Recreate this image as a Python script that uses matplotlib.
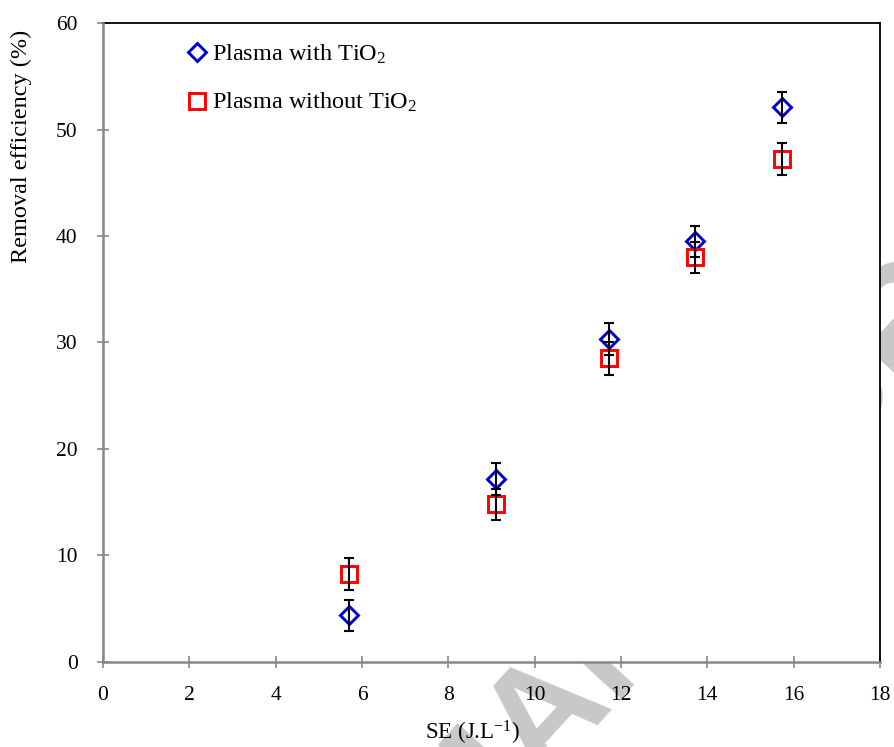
import matplotlib
matplotlib.use("Agg")
import matplotlib.pyplot as plt

plt.rcParams['font.family'] = ['Liberation Serif', 'DejaVu Serif']
plt.rcParams['mathtext.fontset'] = 'custom'
plt.rcParams['mathtext.rm'] = 'Liberation Serif'
plt.rcParams['mathtext.it'] = 'Liberation Serif:italic'
plt.rcParams['mathtext.default'] = 'rm'

# data
se = [5.7, 9.1, 11.72, 13.72, 15.72]
with_tio2 = [4.4, 17.2, 30.3, 39.5, 52.1]
with_tio2_err = [1.45, 1.5, 1.5, 1.45, 1.45]
without_tio2 = [8.3, 14.8, 28.5, 38.0, 47.2]
without_tio2_err = [1.5, 1.45, 1.55, 1.45, 1.5]

xticks = [0, 2, 4, 6, 8, 10, 12, 14, 16, 18]
yticks = [0, 10, 20, 30, 40, 50, 60]

fig = plt.figure(figsize=(8.95, 7.47), dpi=100)
ax = fig.add_axes([0.1151, 0.1138, 0.8681, 0.8554])
ax.set_facecolor('white')

# watermark behind the axes
fig.text(0.508, -0.165, "MANUSCRIPT", fontsize=108, fontweight='bold',
         family='Liberation Sans', color='#c8c8c8', rotation=47.5,
         rotation_mode='anchor', ha='left', va='baseline', zorder=-5)

ax.plot(se, with_tio2, linestyle='none', marker='D', markersize=9.5,
        markerfacecolor='none', markeredgecolor='#0000cc', markeredgewidth=2.1,
        label='Plasma with TiO$_2$', zorder=3)
ax.plot(se, without_tio2, linestyle='none', marker='s', markersize=12.0,
        markerfacecolor='none', markeredgecolor='#ff0000', markeredgewidth=2.1,
        label='Plasma without TiO$_2$', zorder=3)
ax.errorbar(se, with_tio2, yerr=with_tio2_err, fmt='none', ecolor='black',
            elinewidth=1.5, capsize=3.8, capthick=1.5, zorder=4)
ax.errorbar(se, without_tio2, yerr=without_tio2_err, fmt='none', ecolor='black',
            elinewidth=1.5, capsize=3.8, capthick=1.5, zorder=4)

ax.set_xlim(0, 18)
ax.set_ylim(0, 60)
ax.set_xticks(xticks)
ax.set_yticks(yticks)
ax.tick_params(direction='inout', length=8.5, width=1.2, color='#888888',
               labelsize=15.5, labelcolor='black')
ax.tick_params(axis='x', pad=13)
ax.tick_params(axis='y', pad=14)

for side in ['left', 'bottom']:
    ax.spines[side].set_color('#888888')
    ax.spines[side].set_linewidth(1.8)
for side in ['top', 'right']:
    ax.spines[side].set_color('black')
    ax.spines[side].set_linewidth(1.3)
ax.spines['left'].set_zorder(5)
ax.spines['bottom'].set_zorder(5)

ax.set_xlabel('SE (J.L$^{-1}$)', fontsize=16.5)
ax.set_ylabel('Removal efficiency (%)', fontsize=17.5)
ax.xaxis.set_label_coords(0.475, -0.089)
ax.yaxis.set_label_coords(-0.091, 0.807)

ax.legend(loc='upper left', frameon=False, fontsize=17.5, handletextpad=0.0,
          handlelength=1.2, labelspacing=1.05, borderaxespad=0.0,
          bbox_to_anchor=(0.09, 0.985))

fig.savefig('out.png', dpi=100)
